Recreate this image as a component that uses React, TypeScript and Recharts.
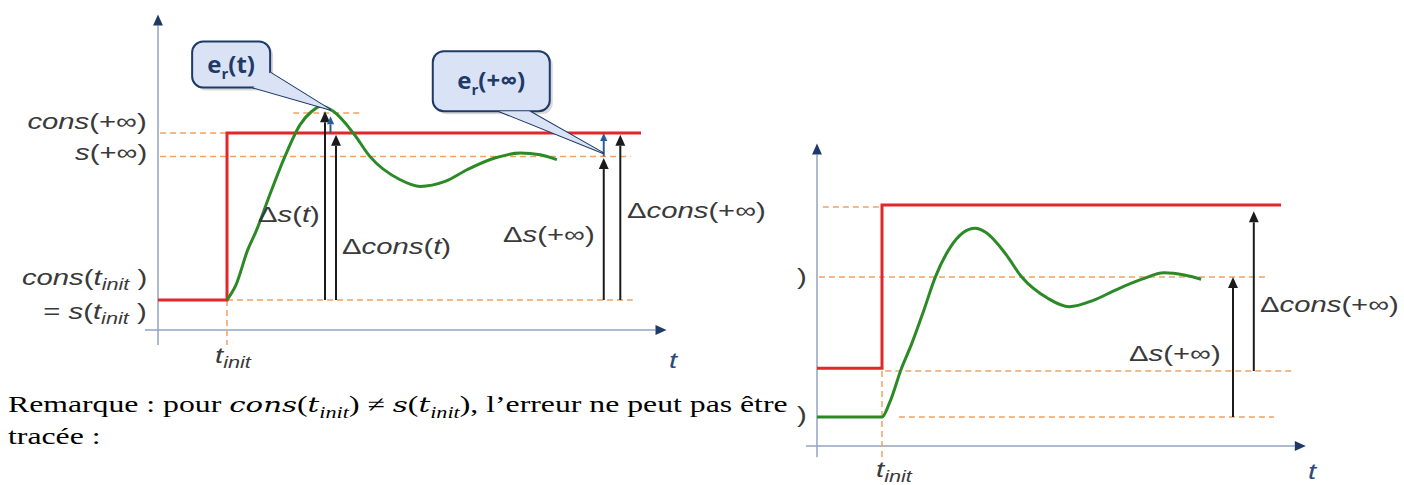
import React from "react";
import { ComposedChart, Line, XAxis, YAxis, ReferenceLine } from "recharts";

// ---- left diagram: cons(t_init) = s(t_init) ----
const leftConsigne = [
  { t: 0, v: 0 },
  { t: 1, v: 1 },
  { t: 7, v: 1 },
];
const leftSortie = [
  { t: 1.0, v: 0 },
  { t: 1.13, v: 0.09 },
  { t: 1.3, v: 0.3 },
  { t: 1.43, v: 0.42 },
  { t: 1.62, v: 0.63 },
  { t: 1.84, v: 0.86 },
  { t: 2.06, v: 1.05 },
  { t: 2.23, v: 1.13 },
  { t: 2.36, v: 1.16 },
  { t: 2.54, v: 1.13 },
  { t: 2.83, v: 1.0 },
  { t: 3.07, v: 0.86 },
  { t: 3.51, v: 0.72 },
  { t: 3.8, v: 0.68 },
  { t: 4.16, v: 0.71 },
  { t: 4.48, v: 0.78 },
  { t: 4.88, v: 0.85 },
  { t: 5.25, v: 0.88 },
  { t: 5.54, v: 0.87 },
  { t: 5.78, v: 0.84 },
];
// dashed guides: [t1, v1, t2, v2]
const leftGuides = [
  [0.03, 1, 1, 1],
  [0.03, 0.86, 6.85, 0.86],
  [1.96, 1.12, 2.93, 1.12],
  [1, 0, 6.88, 0],
  [1, 0, 1, -0.27],
];
// measurement arrows: [t, from, to]
const leftArrows = [
  [2.42, 0, 1.13],
  [2.58, 0, 0.99],
  [6.46, 0, 0.85],
  [6.7, 0, 0.99],
];
const leftErrors = [
  [2.5, 1.0, 1.1],
  [6.46, 0.86, 1.0],
];

// ---- right diagram: cons(t_init) != s(t_init) ----
const rightConsigne = [
  { t: 0, v: 0.23 },
  { t: 1, v: 1 },
  { t: 7.14, v: 1 },
];
const rightSortie = [
  { t: 0, v: 0 },
  { t: 1, v: 0 },
  { t: 1.12, v: 0.07 },
  { t: 1.3, v: 0.23 },
  { t: 1.45, v: 0.34 },
  { t: 1.64, v: 0.5 },
  { t: 1.82, v: 0.66 },
  { t: 2.05, v: 0.8 },
  { t: 2.25, v: 0.87 },
  { t: 2.43, v: 0.89 },
  { t: 2.6, v: 0.87 },
  { t: 2.9, v: 0.77 },
  { t: 3.15, v: 0.66 },
  { t: 3.55, v: 0.56 },
  { t: 3.88, v: 0.52 },
  { t: 4.25, v: 0.55 },
  { t: 4.6, v: 0.6 },
  { t: 5.0, v: 0.65 },
  { t: 5.34, v: 0.68 },
  { t: 5.65, v: 0.67 },
  { t: 5.91, v: 0.65 },
];
const rightGuides = [
  [0.09, 0.99, 1, 0.99],
  [0.03, 0.66, 6.9, 0.66],
  [1.05, 0.217, 7.35, 0.217],
  [1.26, 0, 7.03, 0],
  [1, 0.217, 1, -0.19],
];
const rightArrows = [
  [6.4, 0, 0.66],
  [6.72, 0.217, 0.97],
];

const RED = "#e2272a";
const GREEN = "#2c8a26";
const ORANGE = "#f1a266";
const NAVY = "#1f3a68";
const AXIS = "#93a3c0";
const INK = "#3a3a3a";

const arrow =
  (color: string, width: number, head: number, headColor?: string) =>
  (p: any) => {
    const { x1, y1, x2, y2 } = p;
    const dx = x2 - x1;
    const dy = y2 - y1;
    const len = Math.hypot(dx, dy) || 1;
    const ux = dx / len;
    const uy = dy / len;
    const bx = x2 - ux * head;
    const by = y2 - uy * head;
    const hw = head * 0.45;
    return (
      <g>
        <line x1={x1} y1={y1} x2={bx} y2={by} stroke={color} strokeWidth={width} />
        <polygon
          points={`${x2},${y2} ${bx - uy * hw},${by + ux * hw} ${bx + uy * hw},${by - ux * hw}`}
          fill={headColor || color}
        />
      </g>
    );
  };

const callout =
  (tail: string, w: number, h: number, b1: number[], b2: number[]) =>
  (p: any) => {
    const { x1: cx, y1: cy, x2: tx, y2: ty } = p;
    const wedge = `${cx + b1[0]},${cy + b1[1]} ${tx},${ty} ${cx + b2[0]},${cy + b2[1]}`;
    const fill = "#d9e3f5";
    return (
      <g>
        <rect x={cx - w / 2 + 3} y={cy - h / 2 + 3} width={w} height={h} rx={11} fill="#000" opacity={0.15} />
        <polygon points={wedge} fill={fill} stroke={NAVY} strokeWidth={2} strokeLinejoin="round" />
        <rect x={cx - w / 2} y={cy - h / 2} width={w} height={h} rx={11} fill={fill} stroke={NAVY} strokeWidth={2} />
        <polygon points={wedge} fill={fill} />
        <text
          x={cx}
          y={cy + 8}
          textAnchor="middle"
          fontFamily='"Open Sans", "Liberation Sans", Arial, sans-serif'
          fontWeight={700}
          fontSize={24}
          fill={NAVY}
        >
          e
          <tspan dy={6} fontSize={15}>
            r
          </tspan>
          <tspan dy={-6}>{tail}</tspan>
        </text>
      </g>
    );
  };

function guideLines(guides: number[][], key: string) {
  return guides.map((g, i) => (
    <ReferenceLine
      key={key + i}
      segment={[
        { x: g[0], y: g[1] },
        { x: g[2], y: g[3] },
      ]}
      stroke={ORANGE}
      strokeWidth={1.5}
      strokeDasharray="6 4"
      ifOverflow="visible"
    />
  ));
}

function arrowLines(arrows: number[][], key: string, color: string, width: number, head: number) {
  return arrows.map((a, i) => (
    <ReferenceLine
      key={key + i}
      segment={[
        { x: a[0], y: a[1] },
        { x: a[0], y: a[2] },
      ]}
      ifOverflow="visible"
      shape={arrow(color, width, head)}
    />
  ));
}

const sub = (s: string) => (
  <span style={{ position: "relative", top: "0.32em", fontSize: "0.74em", fontStyle: "italic" }}>{s}</span>
);

function Tag({
  x,
  y,
  right,
  color,
  children,
}: {
  x: number;
  y: number;
  right?: boolean;
  color?: string;
  children: React.ReactNode;
}) {
  return (
    <div
      style={{
        position: "absolute",
        top: y,
        ...(right ? { right: 1404 - x } : { left: x }),
        transform: "translateY(-50%) scaleX(1.33)",
        transformOrigin: right ? "right center" : "left center",
        whiteSpace: "nowrap",
        lineHeight: 1,
        fontFamily: '"Liberation Sans", Arial, sans-serif',
        fontSize: 22,
        color: color || INK,
      }}
    >
      {children}
    </div>
  );
}

const I = ({ children }: { children: React.ReactNode }) => <i>{children}</i>;
const M = ({ children }: { children: React.ReactNode }) => (
  <span style={{ fontStyle: "italic", fontFamily: '"DejaVu Serif", "Liberation Serif", serif', fontSize: "0.92em" }}>
    {children}
  </span>
);

export default function App() {
  return (
    <div
      style={{
        position: "absolute",
        left: 0,
        top: 0,
        width: 1404,
        height: 485,
        background: "#fff",
        overflow: "hidden",
      }}
    >
      <div style={{ position: "absolute", left: 0, top: 0 }}>
        <ComposedChart width={700} height={380} margin={{ top: 7.75, right: 31.4, bottom: 29.9, left: 144.2 }}>
          <XAxis type="number" dataKey="t" domain={[-0.2, 7.4]} hide allowDataOverflow />
          <YAxis type="number" dataKey="v" domain={[-0.3, 1.75]} hide allowDataOverflow />
          <ReferenceLine
            segment={[
              { x: 0, y: -0.27 },
              { x: 0, y: 1.71 },
            ]}
            ifOverflow="visible"
            shape={arrow(AXIS, 1.5, 11, NAVY)}
          />
          <ReferenceLine
            segment={[
              { x: -0.19, y: -0.18 },
              { x: 7.37, y: -0.18 },
            ]}
            ifOverflow="visible"
            shape={arrow(AXIS, 1.5, 11, NAVY)}
          />
          {guideLines(leftGuides, "lg")}
          <Line
            data={leftConsigne}
            dataKey="v"
            type="stepAfter"
            stroke={RED}
            strokeWidth={3}
            dot={false}
            activeDot={false}
            isAnimationActive={false}
          />
          <Line
            data={leftSortie}
            dataKey="v"
            type="monotone"
            stroke={GREEN}
            strokeWidth={3}
            dot={false}
            activeDot={false}
            isAnimationActive={false}
          />
          {arrowLines(leftArrows, "la", "#1b1b1b", 2, 11)}
          {arrowLines(leftErrors, "le", "#2a5c9c", 2, 8)}
          <ReferenceLine
            segment={[
              { x: 1.06, y: 1.41 },
              { x: 2.49, y: 1.14 },
            ]}
            ifOverflow="visible"
            shape={callout("(t)", 78, 46, [22, 23], [39, 8])}
          />
          <ReferenceLine
            segment={[
              { x: 4.83, y: 1.31 },
              { x: 6.45, y: 0.88 },
            ]}
            ifOverflow="visible"
            shape={callout("(+∞)", 117, 60, [8, 30], [38, 30])}
          />
        </ComposedChart>
      </div>

      <div style={{ position: "absolute", left: 780, top: 130 }}>
        <ComposedChart width={620} height={350} margin={{ top: 11.4, right: 89, bottom: 20.6, left: 24 }}>
          <XAxis type="number" dataKey="t" domain={[-0.2, 7.6]} hide allowDataOverflow />
          <YAxis type="number" dataKey="v" domain={[-0.2, 1.3]} hide allowDataOverflow />
          <ReferenceLine
            segment={[
              { x: 0, y: -0.19 },
              { x: 0, y: 1.29 },
            ]}
            ifOverflow="visible"
            shape={arrow(AXIS, 1.5, 11, NAVY)}
          />
          <ReferenceLine
            segment={[
              { x: -0.17, y: -0.137 },
              { x: 7.52, y: -0.137 },
            ]}
            ifOverflow="visible"
            shape={arrow(AXIS, 1.5, 11, NAVY)}
          />
          {guideLines(rightGuides, "rg")}
          <Line
            data={rightConsigne}
            dataKey="v"
            type="stepAfter"
            stroke={RED}
            strokeWidth={3}
            dot={false}
            activeDot={false}
            isAnimationActive={false}
          />
          <Line
            data={rightSortie}
            dataKey="v"
            type="monotone"
            stroke={GREEN}
            strokeWidth={3}
            dot={false}
            activeDot={false}
            isAnimationActive={false}
          />
          {arrowLines(rightArrows, "ra", "#1b1b1b", 2, 11)}
        </ComposedChart>
      </div>

      {/* left diagram labels */}
      <Tag x={147} y={122} right>
        <I>cons</I>(+∞)
      </Tag>
      <Tag x={147} y={153} right>
        <I>s</I>(+∞)
      </Tag>
      <Tag x={147} y={278} right>
        <I>cons</I>(<I>t</I>
        {sub("init")} )
      </Tag>
      <Tag x={147} y={312} right>
        = <I>s</I>(<I>t</I>
        {sub("init")} )
      </Tag>
      <Tag x={215} y={356}>
        <I>t</I>
        {sub("init")}
      </Tag>
      <Tag x={669} y={361} color="#2d4a7a">
        <I>t</I>
      </Tag>
      <Tag x={258} y={215}>
        Δ<I>s</I>(<I>t</I>)
      </Tag>
      <Tag x={342} y={247}>
        Δ<I>cons</I>(<I>t</I>)
      </Tag>
      <Tag x={503} y={235}>
        Δ<I>s</I>(+∞)
      </Tag>
      <Tag x={627} y={211}>
        Δ<I>cons</I>(+∞)
      </Tag>

      {/* right diagram labels */}
      <Tag x={797} y={277}>)</Tag>
      <Tag x={797} y={415}>)</Tag>
      <Tag x={1129} y={354}>
        Δ<I>s</I>(+∞)
      </Tag>
      <Tag x={1260} y={305}>
        Δ<I>cons</I>(+∞)
      </Tag>
      <Tag x={876} y={470}>
        <I>t</I>
        {sub("init")}
      </Tag>
      <Tag x={1308} y={472} color="#2d4a7a">
        <I>t</I>
      </Tag>

      <div
        style={{
          position: "absolute",
          left: 8,
          top: 389,
          fontFamily: '"Liberation Serif", "Times New Roman", serif',
          fontSize: 23,
          lineHeight: "32px",
          color: "#000",
          whiteSpace: "nowrap",
          transform: "scaleX(1.38)",
          transformOrigin: "left top",
        }}
      >
        Remarque : pour <M>cons</M>(<M>t</M>
        <sub style={{ fontStyle: "italic", fontSize: "0.7em", lineHeight: 0 }}>init</sub>) ≠ <M>s</M>(<M>t</M>
        <sub style={{ fontStyle: "italic", fontSize: "0.7em", lineHeight: 0 }}>init</sub>), l’erreur ne peut pas être
        <br />
        tracée :
      </div>
    </div>
  );
}
